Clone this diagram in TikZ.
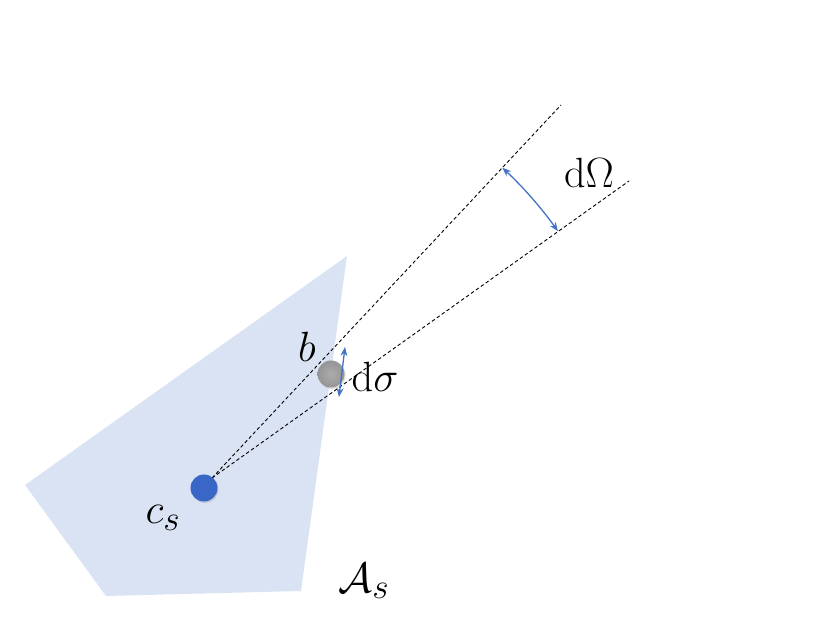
\documentclass[tikz,border=0pt]{standalone}
\usetikzlibrary{arrows.meta,shadows}
\definecolor{areafill}{HTML}{DAE3F3}
\definecolor{accent}{HTML}{4472C4}
\definecolor{bluedot}{HTML}{3A66C8}
\definecolor{graydotin}{HTML}{ABABAB}
\definecolor{graydotout}{HTML}{959595}
\begin{document}
\begin{tikzpicture}[x=1pt,y=1pt,
  lbl/.style={inner sep=0pt,font=\Huge,scale=1.7},
  ray/.style={draw=black,line width=0.9pt,dash pattern=on 3.5pt off 2.5pt},
  dbl/.style={draw=accent,line width=1.3pt,{Stealth[length=9pt,width=7pt]}-{Stealth[length=9pt,width=7pt]}},
  dot/.style={circle,minimum size=27pt,inner sep=0pt,drop shadow={shadow xshift=1pt,shadow yshift=-1.5pt,opacity=0.25}}]
\useasboundingbox (0,0) rectangle (830,623);
% area
\fill[areafill] (347,367) -- (25,138) -- (106,27) -- (301,32) -- cycle;
% rays
\coordinate (S) at (212,145);
\coordinate (U) at (561,518);
\coordinate (L) at (629,442);
\draw[ray] (S) -- (U);
\draw[ray] (S) -- (L);
% solid angle arc
\draw[dbl] ([shift={(46.9:425)}]S) arc[start angle=46.9,end angle=35.5,radius=425];
% dots
\node[dot,fill=bluedot] (cs) at (204,135) {};
\node[dot,inner color=graydotin,outer color=graydotout] (bd) at (331,249) {};
% d sigma arrow
\coordinate (sa) at (345,276);
\coordinate (sb) at (339,226);
\draw[dbl] (sa) -- (sb);
% labels
\node[lbl] (lb) at (307,276) {$b$};
\node[lbl] (lds) at (375,246) {$\mathrm{d}\sigma$};
\node[lbl] (ldo) at (589,450) {$\mathrm{d}\Omega$};
\node[lbl] (lcs) at (163,105) {$c_s$};
\node[lbl] (las) at (364,42) {$\mathcal{A}_s$};
\end{tikzpicture}
\end{document}
